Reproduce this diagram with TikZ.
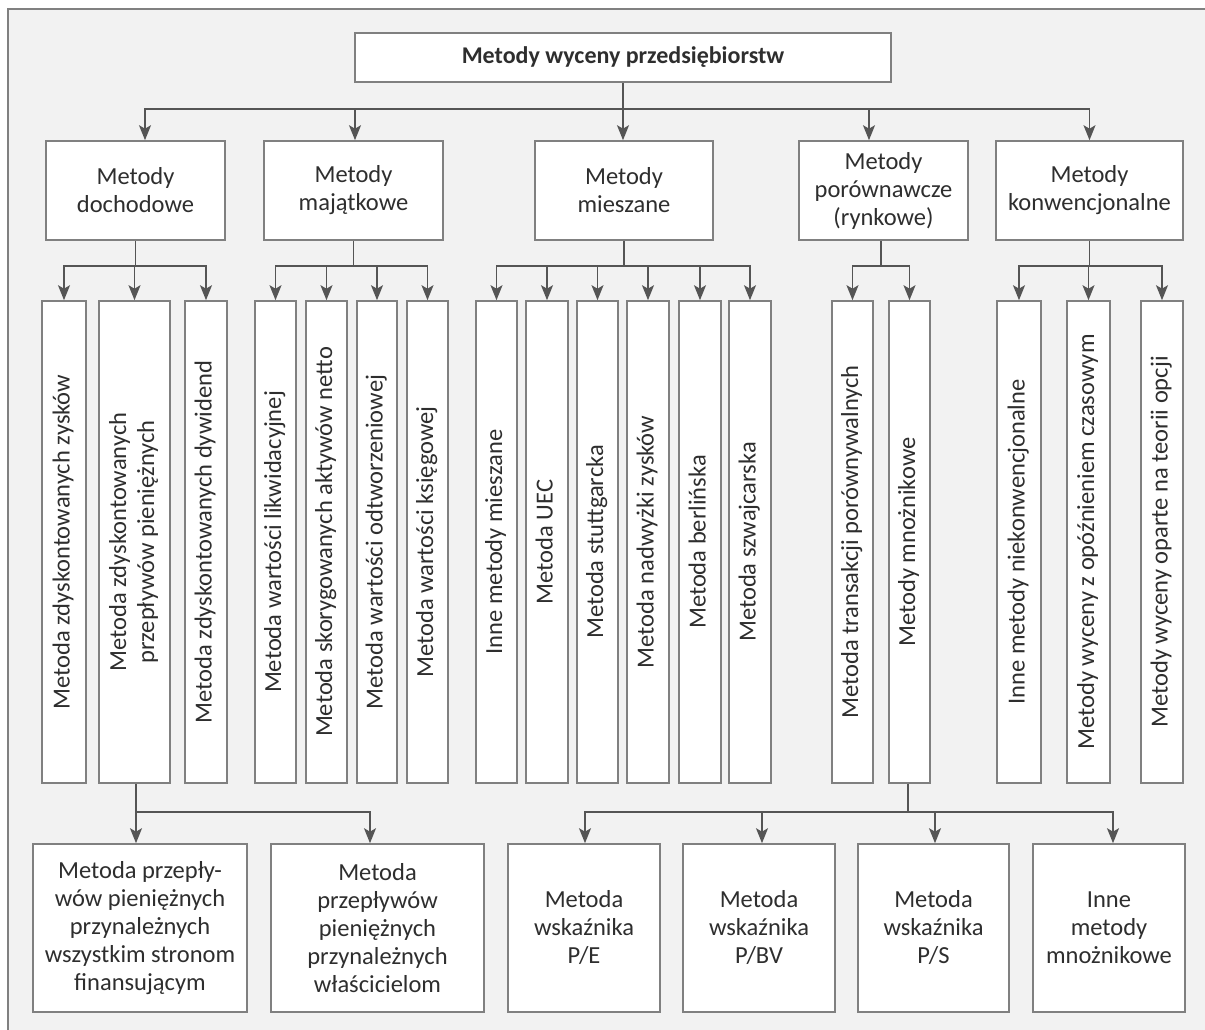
\documentclass[tikz,border=0pt]{standalone}
\usepackage{fontspec}
\usepackage{graphicx}
\setmainfont{Carlito}
\usetikzlibrary{arrows.meta}
\definecolor{bg}{HTML}{F2F2F2}
\definecolor{ln}{HTML}{555555}
\definecolor{bd}{HTML}{808080}
\definecolor{tx}{HTML}{2E2E2E}
\newcommand{\vtext}[1]{\rotatebox{90}{\begin{tabular}{@{}c@{}}#1\end{tabular}}}
\begin{document}
\begin{tikzpicture}[x=1pt,y=-1pt,
  box/.style={draw=bd, line width=1.6pt, fill=white, text=tx, inner sep=0pt, align=center,
    font=\fontsize{24.5}{28}\selectfont},
  topbox/.style={box, font=\fontsize{24}{28}\selectfont\bfseries, minimum width=536pt, minimum height=49pt},
  lvone/.style={box, minimum height=99pt},
  vbox/.style={box, minimum height=482pt},
  bbox/.style={box, minimum height=168pt},
  conn/.style={draw=ln, line width=1.7pt},
  arr/.style={conn, -{Stealth[length=15pt,width=12pt,inset=3.5pt]}}]
\useasboundingbox (0,0) rectangle (1205,1030);
\fill[white] (0,0) rectangle (1205,1030);
\fill[bg] (8,9) rectangle (1205,1030);
\draw[bd, line width=1.5pt] (8,1030) -- (8,9) -- (1205,9);

% top
\node[topbox] (top) at (623,57.5) {Metody wyceny przedsiębiorstw};

% level 1
\node[lvone, minimum width=179pt] (d1) at (135.5,190.5) {Metody\\dochodowe};
\node[lvone, minimum width=179pt] (d2) at (353.5,190.5) {Metody\\majątkowe};
\node[lvone, minimum width=178pt] (d3) at (624,190.5) {Metody\\mieszane};
\node[lvone, minimum width=169pt] (d4) at (883.5,190.5) {Metody\\porównawcze\\(rynkowe)};
\node[lvone, minimum width=187pt] (d5) at (1089.5,190.5) {Metody\\konwencjonalne};

% vertical boxes
\node[vbox, minimum width=44pt] (v1) at (64,542) {\vtext{Metoda zdyskontowanych zysków}};
\node[vbox, minimum width=71pt] (v2) at (134.5,542) {\vtext{Metoda zdyskontowanych\\przepływów pieniężnych}};
\node[vbox, minimum width=42pt] (v3) at (206,542) {\vtext{Metoda zdyskontowanych dywidend}};
\node[vbox, minimum width=41pt] (v4) at (275.5,542) {\vtext{Metoda wartości likwidacyjnej}};
\node[vbox, minimum width=41pt] (v5) at (326.5,542) {\vtext{Metoda skorygowanych aktywów netto}};
\node[vbox, minimum width=40pt] (v6) at (377,542) {\vtext{Metoda wartości odtworzeniowej}};
\node[vbox, minimum width=41pt] (v7) at (427.5,542) {\vtext{Metoda wartości księgowej}};
\node[vbox, minimum width=41pt] (v8) at (496.5,542) {\vtext{Inne metody mieszane}};
\node[vbox, minimum width=42pt] (v9) at (547,542) {\vtext{Metoda UEC}};
\node[vbox, minimum width=41pt] (v10) at (597.5,542) {\vtext{Metoda stuttgarcka}};
\node[vbox, minimum width=42pt] (v11) at (648,542) {\vtext{Metoda nadwyżki zysków}};
\node[vbox, minimum width=42pt] (v12) at (700,542) {\vtext{Metoda berlińska}};
\node[vbox, minimum width=42pt] (v13) at (750,542) {\vtext{Metoda szwajcarska}};
\node[vbox, minimum width=41pt] (v14) at (852.5,542) {\vtext{Metoda transakcji porównywalnych}};
\node[vbox, minimum width=41pt] (v15) at (909.5,542) {\vtext{Metody mnożnikowe}};
\node[vbox, minimum width=44pt] (v16) at (1019,542) {\vtext{Inne metody niekonwencjonalne}};
\node[vbox, minimum width=43pt] (v17) at (1088.5,542) {\vtext{Metody wyceny z opóźnieniem czasowym}};
\node[vbox, minimum width=42pt] (v18) at (1162,542) {\vtext{Metody wyceny oparte na teorii opcji}};

% bottom boxes
\node[bbox, minimum width=214pt] (b1) at (140,928) {Metoda przepły-\\wów pieniężnych\\przynależnych\\wszystkim stronom\\finansującym};
\node[bbox, minimum width=213pt] (b2) at (377.5,928) {Metoda\\przepływów\\pieniężnych\\przynależnych\\właścicielom};
\node[bbox, minimum width=152pt] (b3) at (584,928) {Metoda\\wskaźnika\\P/E};
\node[bbox, minimum width=152pt] (b4) at (759,928) {Metoda\\wskaźnika\\P/BV};
\node[bbox, minimum width=151pt] (b5) at (933.5,928) {Metoda\\wskaźnika\\P/S};
\node[bbox, minimum width=152pt] (b6) at (1109,928) {Inne\\metody\\mnożnikowe};

% connectors: top -> level 1
\coordinate (j0) at (623,109);
\draw[conn] (top.south) -- (j0);
\draw[arr] (j0) -| ([xshift=9.5pt]d1.north);
\draw[arr] (j0) -| ([xshift=1.5pt]d2.north);
\draw[arr] (j0) -- (j0 |- d3.north);
\draw[arr] (j0) -| ([xshift=-14.5pt]d4.north);
\draw[arr] (j0) -| (d5.north);

% dochodowe
\coordinate (j1) at (135.5,266);
\draw[conn] (d1.south) -- (j1);
\foreach \v in {v1,v2,v3} \draw[arr] (j1) -| (\v.north);
% majatkowe
\coordinate (j2) at (353.5,266);
\draw[conn] (d2.south) -- (j2);
\foreach \v in {v4,v5,v6,v7} \draw[arr] (j2) -| (\v.north);
% mieszane
\coordinate (j3) at (624,266);
\draw[conn] (d3.south) -- (j3);
\foreach \v in {v8,v9,v10,v11,v12,v13} \draw[arr] (j3) -| (\v.north);
% porownawcze
\coordinate (j4) at (881,266);
\draw[conn] ([xshift=-2.5pt]d4.south) -- (j4);
\foreach \v in {v14,v15} \draw[arr] (j4) -| (\v.north);
% konwencjonalne
\coordinate (j5) at (1089.5,266);
\draw[conn] (d5.south) -- (j5);
\foreach \v in {v16,v17,v18} \draw[arr] (j5) -| (\v.north);

% v2 -> bottom
\coordinate (j6) at (136,812);
\draw[conn] ([xshift=1.5pt]v2.south) -- (j6);
\draw[arr] (j6) -- (j6 |- b1.north);
\draw[arr] (j6) -| ([xshift=-7.5pt]b2.north);

% v15 -> bottom
\coordinate (j7) at (908,812);
\draw[conn] ([xshift=-1.5pt]v15.south) -- (j7);
\draw[arr] (j7) -| ([xshift=1pt]b3.north);
\draw[arr] (j7) -| ([xshift=3pt]b4.north);
\draw[arr] (j7) -| ([xshift=1.5pt]b5.north);
\draw[arr] (j7) -| ([xshift=4pt]b6.north);
\end{tikzpicture}
\end{document}
